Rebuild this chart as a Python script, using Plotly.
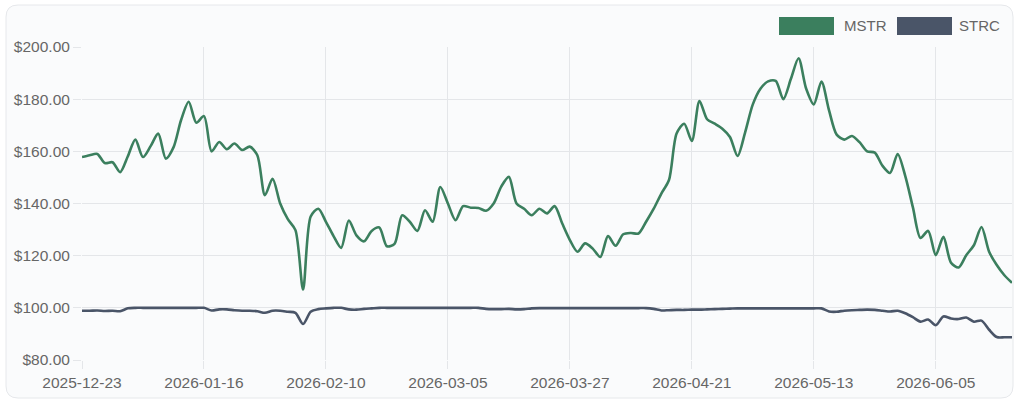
import plotly.graph_objects as go
import pandas as pd

# ---- data ----
HOLIDAYS = ['2025-12-25', '2026-01-01', '2026-01-19', '2026-02-16',
            '2026-04-03', '2026-05-25', '2026-06-19']
dates = [d.strftime('%Y-%m-%d') for d in
         pd.bdate_range('2025-12-23', '2026-06-22', freq='C', holidays=HOLIDAYS)]

mstr = [157.8, 158.5, 159.0, 155.5, 155.8, 152.0, 158.0, 164.5, 157.8, 162.0,
        166.8, 157.2, 161.5, 172.0, 179.0, 171.0, 173.5, 160.0, 163.6, 160.8,
        163.0, 160.5, 161.8, 158.5, 143.2, 149.5, 140.0, 134.0, 129.8, 107.0,
        135.0, 138.0, 133.0, 127.5, 123.0, 133.5, 127.8, 125.5, 129.5, 130.8,
        123.6, 124.5, 135.5, 133.0, 129.5, 137.4, 133.0, 146.3, 140.0, 133.6,
        139.0, 138.4, 138.3, 137.2, 140.0, 146.5, 150.2, 140.0, 138.0, 135.5,
        138.0, 136.2, 139.0, 132.3, 126.0, 121.5, 124.7, 122.7, 119.5, 127.5,
        123.8, 128.2, 128.7, 128.5, 133.0, 138.0, 143.8, 149.0, 166.8, 170.6,
        164.0, 179.3, 172.3, 170.6, 168.7, 165.5, 158.2, 167.4, 178.0, 184.0,
        186.8, 187.0, 180.0, 187.8, 195.7, 184.0, 178.0, 186.8, 175.7, 166.4,
        164.5, 165.9, 163.5, 160.0, 159.5, 154.5, 151.7, 159.0, 150.5, 138.5,
        126.8, 129.5, 120.2, 127.2, 117.3, 115.5, 120.2, 124.0, 131.0, 121.5,
        116.4, 112.5, 109.6]

strc = [98.9, 98.9, 99.0, 98.8, 98.9, 98.7, 99.8, 100.0, 100.0, 100.0,
        100.0, 100.0, 100.0, 100.0, 100.0, 100.0, 100.0, 99.0, 99.4, 99.4,
        99.1, 98.9, 98.9, 98.7, 98.1, 98.9, 98.9, 98.5, 98.1, 93.8,
        98.5, 99.5, 99.8, 100.0, 100.0, 99.4, 99.3, 99.6, 99.8, 100.0,
        100.0, 100.0, 100.0, 100.0, 100.0, 100.0, 100.0, 100.0, 100.0, 100.0,
        100.0, 100.0, 100.0, 99.6, 99.5, 99.5, 99.6, 99.4, 99.5, 99.8,
        99.9, 99.9, 99.9, 99.9, 99.9, 99.9, 99.9, 99.9, 99.9, 99.9,
        99.9, 99.9, 99.9, 99.9, 99.9, 99.6, 99.0, 99.1, 99.2, 99.2,
        99.3, 99.3, 99.4, 99.5, 99.6, 99.7, 99.8, 99.8, 99.8, 99.8,
        99.8, 99.8, 99.8, 99.8, 99.8, 99.8, 99.8, 99.8, 98.6, 98.5,
        98.9, 99.1, 99.2, 99.3, 99.2, 98.9, 98.6, 98.9, 97.9, 96.4,
        94.7, 95.5, 93.3, 96.7, 95.9, 95.7, 96.3, 94.7, 95.1, 91.6,
        88.8, 88.7, 88.7]

dates = dates[:len(mstr)]
x_tick_labels = ['2025-12-23', '2026-01-16', '2026-02-10', '2026-03-05',
                 '2026-03-27', '2026-04-21', '2026-05-13', '2026-06-05']
y_ticks = [80, 100, 120, 140, 160, 180, 200]
series_names = ['MSTR', 'STRC']

# ---- style ----
GREEN = '#3b7f5e'
SLATE = '#4a5568'
GRID = '#e4e6e9'
TXT = '#666666'
FONT = 'Liberation Sans, Arial, Helvetica, sans-serif'

W, H = 1024, 409
L, R, T, B = 82, 12, 47, 49
PW, PH = W - L - R, H - T - B


def px(xp):
    return (xp - L) / PW


def py(yp):
    return (H - B - yp) / PH


fig = go.Figure()
fig.add_trace(go.Scatter(x=dates, y=mstr, mode='lines', name=series_names[0],
                         line=dict(color=GREEN, width=2.6, shape='spline', smoothing=0.8)))
fig.add_trace(go.Scatter(x=dates, y=strc, mode='lines', name=series_names[1],
                         line=dict(color=SLATE, width=2.6, shape='spline', smoothing=0.8)))

# card background with rounded corners
x0, x1 = px(6), px(1013)
y0, y1 = py(398), py(5)
rx, ry = 12 / PW, 12 / PH
card = (f"M {x0+rx},{y1} L {x1-rx},{y1} Q {x1},{y1} {x1},{y1-ry} "
        f"L {x1},{y0+ry} Q {x1},{y0} {x1-rx},{y0} L {x0+rx},{y0} "
        f"Q {x0},{y0} {x0},{y0+ry} L {x0},{y1-ry} Q {x0},{y1} {x0+rx},{y1} Z")
shapes = [dict(type='path', xref='paper', yref='paper', path=card,
               fillcolor='#fafbfc', line=dict(color='#e6e8eb', width=1), layer='below')]

# custom legend (box + label)
legend_items = [(series_names[0], GREEN, 779, 834, 842),
                (series_names[1], SLATE, 897, 952, 957)]
annotations = []
for name, col, bx0, bx1, tx in legend_items:
    shapes.append(dict(type='rect', xref='paper', yref='paper',
                       x0=px(bx0), x1=px(bx1), y0=py(35), y1=py(17),
                       fillcolor=col, line=dict(width=0)))
    annotations.append(dict(xref='paper', yref='paper', x=px(tx), y=py(26),
                            text=name, showarrow=False, xanchor='left', yanchor='middle',
                            font=dict(family=FONT, size=15, color=TXT)))

fig.update_layout(
    width=W, height=H,
    margin=dict(l=L, r=R, t=T, b=B),
    paper_bgcolor='white',
    plot_bgcolor='rgba(0,0,0,0)',
    showlegend=False,
    shapes=shapes,
    annotations=annotations,
    font=dict(family=FONT, size=15, color=TXT),
    xaxis=dict(type='category', range=[0, len(dates) - 1],
               tickmode='array', tickvals=x_tick_labels, ticktext=x_tick_labels,
               showgrid=True, gridcolor=GRID, gridwidth=1,
               ticks='outside', ticklen=8, tickcolor=GRID,
               showline=False, zeroline=False,
               tickfont=dict(family=FONT, size=15.5, color=TXT)),
    yaxis=dict(range=[80, 200], tickmode='array', tickvals=y_ticks,
               ticktext=[f'${v:.2f}' for v in y_ticks],
               showgrid=True, gridcolor=GRID, gridwidth=1,
               ticks='outside', ticklen=8, tickcolor=GRID,
               showline=False, zeroline=False,
               tickfont=dict(family=FONT, size=15.5, color=TXT)),
)

fig.write_html('out.html')
